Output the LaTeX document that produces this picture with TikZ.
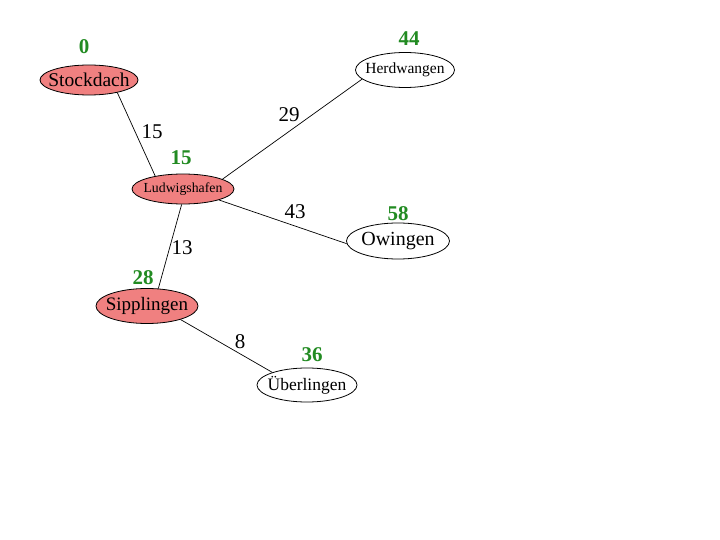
\documentclass[tikz,border=0pt]{standalone}
\usepackage{fontspec}
\setmainfont{Liberation Serif}
\usetikzlibrary{shapes.geometric}
\definecolor{salmonfill}{RGB}{240,128,128}
\definecolor{costgreen}{RGB}{34,139,34}
\tikzset{
  city/.style={ellipse, draw=black, line width=0.8pt, inner xsep=-25pt, inner ysep=-6pt},
  visited/.style={city, fill=salmonfill},
  open/.style={city, fill=white},
  cost/.style={text=costgreen, font=\fontsize{21}{21}\selectfont\bfseries, inner sep=0pt},
  weight/.style={font=\fontsize{21}{21}\selectfont, inner sep=0pt},
  road/.style={draw=black, line width=0.7pt}
}
\begin{document}
\begin{tikzpicture}[x=1pt,y=-1pt]
\useasboundingbox (0,0) rectangle (720,540);
% cities
\node[visited, minimum width=98pt, minimum height=30pt, font=\fontsize{19.5}{19.5}\selectfont] (stock) at (89,80) {Stockdach};
\node[open, minimum width=99pt, minimum height=35pt, font=\fontsize{15.5}{15.5}\selectfont] (herd) at (405,70) {Herdwangen};
\node[visited, minimum width=102pt, minimum height=30pt, font=\fontsize{13.8}{13.8}\selectfont] (lud) at (183,189) {Ludwigshafen};
\node[open, minimum width=103pt, minimum height=36pt, font=\fontsize{20}{20}\selectfont] (owi) at (398,241) {Owingen};
\node[visited, minimum width=102pt, minimum height=35pt, font=\fontsize{19}{19}\selectfont] (sipp) at (147,306) {Sipplingen};
\node[open, minimum width=100pt, minimum height=34pt, font=\fontsize{17.5}{17.5}\selectfont] (uber) at (307,385) {Überlingen};
% costs
\node[cost] (c0) at (84,47) {0};
\node[cost] (c44) at (409,39) {44};
\node[cost] (c15) at (181,158) {15};
\node[cost] (c58) at (398,214) {58};
\node[cost] (c28) at (143,278) {28};
\node[cost] (c36) at (312,355) {36};
% roads
\draw[road] (stock.-24) -- (lud.155);
\draw[road] (lud.14) -- (herd.192);
\draw[road] (lud.-17) -- (owi.183);
\draw[road] (lud.265) -- (sipp.57);
\draw[road] (sipp.-22) -- (uber.160);
% weights
\node[weight] (w15) at (152,132) {15};
\node[weight] (w29) at (289,115) {29};
\node[weight] (w43) at (295,212) {43};
\node[weight] (w13) at (182,248) {13};
\node[weight] (w8) at (240,342) {8};
\end{tikzpicture}
\end{document}
